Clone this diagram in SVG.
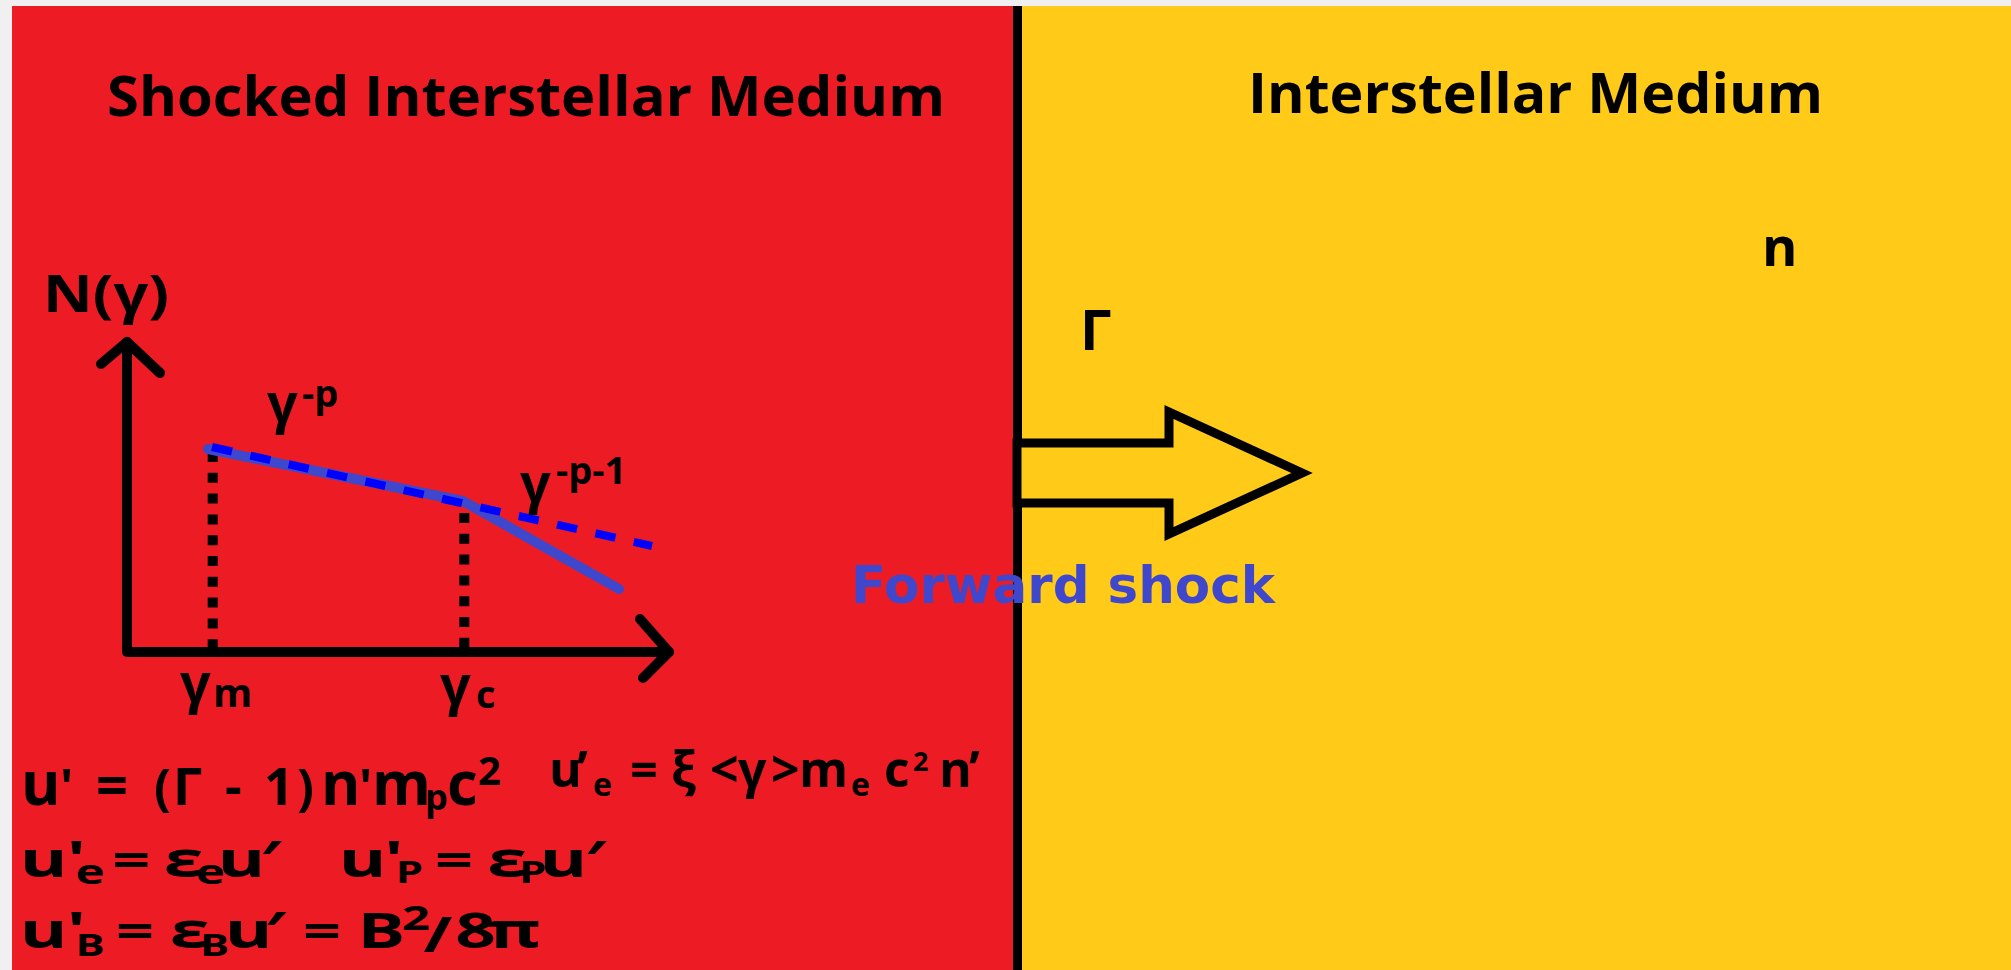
<svg xmlns="http://www.w3.org/2000/svg" width="2011" height="970" viewBox="0 0 2011 970">
<style>
.t{font-family:"Open Sans","Noto Sans","DejaVu Sans",sans-serif;font-weight:700;fill:#000}
.fs{font-family:"DejaVu Sans","Open Sans",sans-serif;font-weight:700;fill:#3f48cc}
.ax{fill:none;stroke:#000;stroke-width:10;stroke-linecap:round;stroke-linejoin:round}
.dot{fill:none;stroke:#000;stroke-width:10;stroke-dasharray:10 10.8}
</style>
<rect x="0" y="0" width="2011" height="970" fill="#f0f0f0"/>
<g id="shocked-region">
<rect x="12" y="6" width="1003" height="964" fill="#ed1c24"/>
<text class="t" x="107" y="116" font-size="55" textLength="838" lengthAdjust="spacingAndGlyphs">Shocked Interstellar Medium</text>
</g>
<g id="ism-region">
<rect x="1015" y="6" width="996" height="964" fill="#ffca18"/>
<text class="t" x="1248" y="113" font-size="56" textLength="575" lengthAdjust="spacingAndGlyphs">Interstellar Medium</text>
<text class="t" x="1762" y="266" font-size="54">n</text>
<text class="t" x="1080" y="350" font-size="56">Γ</text>
</g>
<g id="plot">
<path class="dot" d="M212.7,452 V652"/>
<path class="dot" d="M464.3,513 V652"/>
<polyline points="208,449 463,501 619,589" fill="none" stroke="#3f48cc" stroke-width="10" stroke-linecap="round" stroke-linejoin="round"/>
<line x1="212" y1="447" x2="652" y2="546" stroke="#0000ff" stroke-width="8" stroke-dasharray="20.5 18.8"/>
<path class="ax" d="M127,342 V652 H669"/>
<polyline class="ax" points="101,364 127,342 160,373"/>
<polyline class="ax" points="640,619 669,652 643,678"/>
<text class="t" x="43" y="312" font-size="52" textLength="126" lengthAdjust="spacingAndGlyphs">N(γ)</text>
<text class="t"><tspan x="267" y="422" font-size="54">γ</tspan><tspan x="302" y="407" font-size="38">-p</tspan></text>
<text class="t"><tspan x="520" y="502" font-size="54">γ</tspan><tspan x="556" y="484" font-size="38">-p-1</tspan></text>
<text class="t"><tspan x="180" y="702" font-size="54">γ</tspan><tspan x="213" y="707" font-size="40">m</tspan></text>
<text class="t"><tspan x="440" y="704" font-size="54">γ</tspan><tspan x="476" y="708" font-size="38">c</tspan></text>
</g>
<g id="equations">
<text class="t"><tspan x="21" y="805" font-size="60">u</tspan><tspan x="60" y="805" font-size="50">'</tspan><tspan x="96" y="805" font-size="56">=</tspan><tspan x="154" y="805" font-size="50">(</tspan><tspan x="173" y="805" font-size="52">Γ</tspan><tspan x="225" y="805" font-size="52">-</tspan><tspan x="264" y="805" font-size="52">1</tspan><tspan x="297" y="805" font-size="50">)</tspan><tspan x="321" y="805" font-size="60">n</tspan><tspan x="359" y="805" font-size="50">'</tspan><tspan x="372" y="805" font-size="60">m</tspan><tspan x="425" y="810" font-size="36">p</tspan><tspan x="447" y="805" font-size="60">c</tspan><tspan x="478" y="785" font-size="40">2</tspan></text>
<text class="t"><tspan x="549" y="787" font-size="50">u</tspan><tspan x="577" y="787" font-size="50">’</tspan><tspan x="593" y="796" font-size="32">e</tspan><tspan x="630" y="787" font-size="48">=</tspan><tspan x="671" y="787" font-size="50">ξ</tspan><tspan x="710" y="787" font-size="50">&lt;</tspan><tspan x="738" y="787" font-size="50">γ</tspan><tspan x="771" y="787" font-size="50">&gt;</tspan><tspan x="799" y="787" font-size="50">m</tspan><tspan x="851" y="796" font-size="32">e</tspan><tspan x="884" y="787" font-size="50">c</tspan><tspan x="913" y="771" font-size="27">2</tspan><tspan x="939" y="787" font-size="50">n</tspan><tspan x="969" y="787" font-size="50">’</tspan></text>
<text class="t" transform="scale(1.45,1)"><tspan x="13.7" y="877" font-size="50">u</tspan><tspan x="46" y="877" font-size="50">'</tspan><tspan x="52" y="884" font-size="34">e</tspan><tspan x="77.5" y="877" font-size="46">=</tspan><tspan x="113" y="877" font-size="50">ε</tspan><tspan x="135" y="884" font-size="34">e</tspan><tspan x="150" y="877" font-size="50">u</tspan><tspan x="179" y="877" font-size="50">′</tspan><tspan x="233.7" y="877" font-size="50">u</tspan><tspan x="265" y="877" font-size="50">'</tspan><tspan x="273" y="883" font-size="30">P</tspan><tspan x="300" y="877" font-size="46">=</tspan><tspan x="336" y="877" font-size="50">ε</tspan><tspan x="358" y="883" font-size="30">P</tspan><tspan x="372" y="877" font-size="50">u</tspan><tspan x="403" y="877" font-size="50">′</tspan></text>
<text class="t" transform="scale(1.45,1)"><tspan x="13.7" y="948" font-size="50">u</tspan><tspan x="46" y="948" font-size="50">'</tspan><tspan x="52" y="956" font-size="30">B</tspan><tspan x="80" y="948" font-size="46">=</tspan><tspan x="117" y="948" font-size="50">ε</tspan><tspan x="138" y="956" font-size="30">B</tspan><tspan x="155" y="948" font-size="50">u</tspan><tspan x="182" y="948" font-size="50">′</tspan><tspan x="209" y="948" font-size="46">=</tspan><tspan x="246.6" y="948" font-size="49">B</tspan><tspan x="277" y="930" font-size="34">2</tspan><tspan x="292" y="952" font-size="48">/</tspan><tspan x="314" y="948" font-size="49">8</tspan><tspan x="336" y="948" font-size="50">π</tspan></text>
</g>
<g id="shock-front">
<line x1="1017.5" y1="6" x2="1017.5" y2="970" stroke="#000" stroke-width="9"/>
</g>
<g id="connectors">
<path id="shock-arrow" d="M1017,443 H1169 V412 L1302,473 L1169,534 V503 H1017 Z" fill="#ffca18" stroke="#000" stroke-width="9" stroke-linejoin="miter"/>
</g>
<g id="forward-shock-label">
<text class="fs" x="851" y="603" font-size="52" textLength="424" lengthAdjust="spacingAndGlyphs">Forward shock</text>
</g>
</svg>
